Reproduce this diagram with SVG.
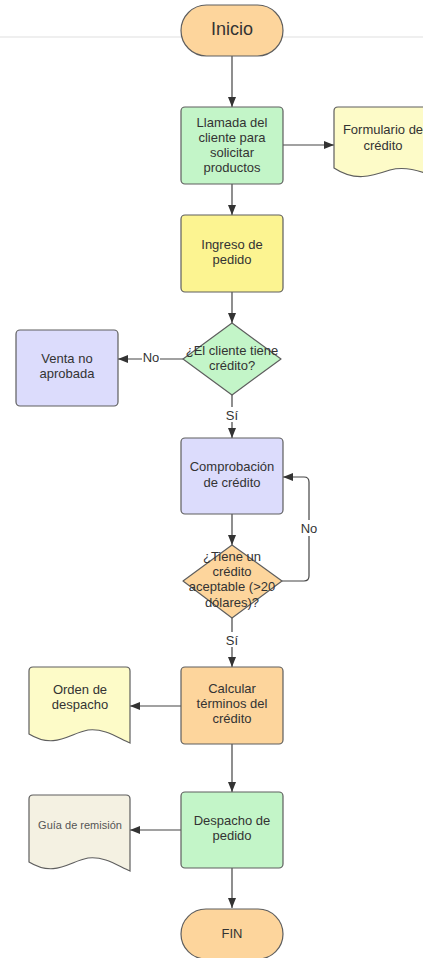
<svg xmlns="http://www.w3.org/2000/svg" width="423" height="958" viewBox="0 0 423 958">
<defs>
<marker id="ah" markerUnits="userSpaceOnUse" markerWidth="10" markerHeight="10" viewBox="0 0 10 10" refX="10" refY="5" orient="auto">
<path d="M0,1 L10,5 L0,9 Z" fill="#333"/>
</marker>
<style>
.s{stroke:#5e5e5e;stroke-width:1.2}
.t{font-family:"Liberation Sans",Arial,sans-serif;font-size:13px;fill:#333;text-anchor:middle}
.c{fill:none;stroke:#444;stroke-width:1.2;marker-end:url(#ah)}
.orange{fill:#fdd59c}
.green{fill:#c3f5c8}
.yellow{fill:#fcf491}
.lav{fill:#dcdcfc}
.doc{fill:#fdfbc8}
.lbl{font-family:"Liberation Sans",Arial,sans-serif;font-size:13px;fill:#333;text-anchor:middle}
</style>
</defs>
<rect width="423" height="958" fill="#fff"/>
<line x1="0" y1="37" x2="423" y2="37" stroke="#efefef" stroke-width="2"/>

<g id="connectors">
<path class="c" d="M232,56 V107"/>
<path class="c" d="M283,145 H334"/>
<path class="c" d="M232,184 V215"/>
<path class="c" d="M232,292 V323"/>
<path class="c" d="M183,359 H118"/>
<rect x="142" y="350" width="18" height="15" fill="#fff"/>
<text class="lbl" x="151" y="362">No</text>
<path class="c" d="M232,395 V438"/>
<rect x="224" y="407" width="16" height="15" fill="#fff"/>
<text class="lbl" x="232" y="420">Sí</text>
<path class="c" d="M232,514 V545"/>
<path class="c" d="M282,581 H304 Q309,581 309,576 V482 Q309,477 304,477 H283"/>
<rect x="299" y="520" width="20" height="16" fill="#fff"/>
<text class="lbl" x="309" y="533">No</text>
<path class="c" d="M232,618 V667"/>
<rect x="224" y="632" width="16" height="15" fill="#fff"/>
<text class="lbl" x="232" y="645">Sí</text>
<path class="c" d="M181,706 H130"/>
<path class="c" d="M232,744 V792"/>
<path class="c" d="M181,830 H130"/>
<path class="c" d="M232,868 V908"/>
</g>

<g id="inicio">
<rect class="s orange" x="181" y="5" width="102" height="51" rx="25.5"/>
<text class="t" x="232" y="35" style="font-size:18px">Inicio</text>
</g>

<g id="llamada">
<rect class="s green" x="181" y="107" width="102" height="77" rx="4"/>
<text class="t" x="232" y="127">Llamada del</text>
<text class="t" x="232" y="142">cliente  para</text>
<text class="t" x="232" y="157">solicitar</text>
<text class="t" x="232" y="172">productos</text>
</g>

<g id="formulario">
<path class="s doc" d="M338,107 H436 V178 C420,170 405,166 390,170 C372,176 355,182 334,168 V111 Q334,107 338,107 Z"/>
<text class="t" x="383" y="134">Formulario de</text>
<text class="t" x="383" y="150">crédito</text>
</g>

<g id="ingreso">
<rect class="s yellow" x="181" y="215" width="102" height="77" rx="4"/>
<text class="t" x="232" y="249">Ingreso de</text>
<text class="t" x="232" y="264">pedido</text>
</g>

<g id="decision1">
<path class="s green" d="M232,323 L281,359 L232,395 L183,359 Z" stroke-linejoin="round"/>
<text class="t" x="232" y="355">¿El cliente tiene</text>
<text class="t" x="232" y="370">crédito?</text>
</g>

<g id="venta">
<rect class="s lav" x="16" y="330" width="102" height="76" rx="4"/>
<text class="t" x="67" y="363">Venta no</text>
<text class="t" x="67" y="378">aprobada</text>
</g>

<g id="comprobacion">
<rect class="s lav" x="181" y="438" width="102" height="76" rx="4"/>
<text class="t" x="232" y="471">Comprobación</text>
<text class="t" x="232" y="487">de crédito</text>
</g>

<g id="decision2">
<path class="s orange" d="M232,545 L282,581 L232,618 L183,581 Z" stroke-linejoin="round"/>
<text class="t" x="232" y="561">¿Tiene un</text>
<text class="t" x="232" y="576">crédito</text>
<text class="t" x="232" y="591">aceptable (&gt;20</text>
<text class="t" x="232" y="607">dólares)?</text>
</g>

<g id="calcular">
<rect class="s orange" x="181" y="667" width="102" height="77" rx="4"/>
<text class="t" x="232" y="693">Calcular</text>
<text class="t" x="232" y="708">términos del</text>
<text class="t" x="232" y="723">crédito</text>
</g>

<g id="orden">
<path class="s doc" d="M33,667 H126 Q130,667 130,671 V743 C118,738 105,728 88,730 C70,733 55,750 29,734 V671 Q29,667 33,667 Z"/>
<text class="t" x="80" y="694">Orden de</text>
<text class="t" x="80" y="709">despacho</text>
</g>

<g id="despacho">
<rect class="s green" x="181" y="792" width="102" height="76" rx="4"/>
<text class="t" x="232" y="825">Despacho de</text>
<text class="t" x="232" y="840">pedido</text>
</g>

<g id="guia">
<path class="s" fill="#f4f1e2" d="M33,795 H126 Q130,795 130,799 V871 C118,866 105,856 88,858 C70,861 55,878 29,862 V799 Q29,795 33,795 Z"/>
<text class="t" x="80" y="829" style="font-size:11px;fill:#555">Guía de remisión</text>
</g>

<g id="fin">
<rect class="s orange" x="181" y="909" width="102" height="50" rx="25"/>
<text class="t" x="232" y="938">FIN</text>
</g>
</svg>
